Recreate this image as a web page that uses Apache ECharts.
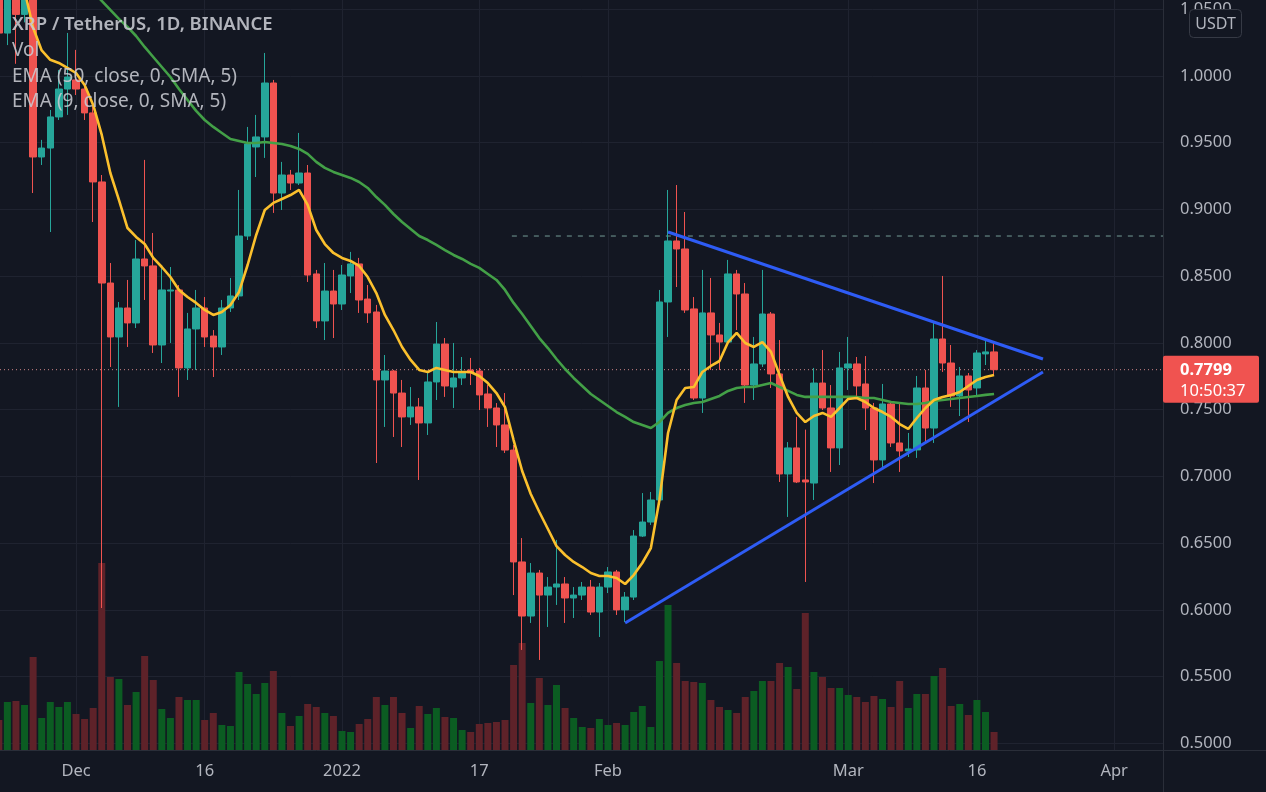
<!DOCTYPE html>
<html><head><meta charset="utf-8">
<script src="https://cdn.jsdelivr.net/npm/echarts/dist/echarts.min.js"></script>
<style>html,body{margin:0;padding:0;background:#131722;}#c{width:1266px;height:792px;}</style>
</head><body><div id="c"></div>
<script>
// day offsets are counted from 2021-12-01 (day 0); first candle is 2021-11-22
const firstDay = -9;
const opens = [1.080,1.032,1.068,1.046,1.062,0.9392,0.9459,0.9692,0.9901,0.9969,0.9901,0.9722,0.9205,0.8448,0.8044,0.8261,0.8149,0.8628,0.8576,0.7984,0.8388,0.8396,0.7812,0.8104,0.8261,0.8051,0.7969,0.8261,0.8351,0.8800,0.9467,0.9542,0.9946,0.9122,0.9257,0.9197,0.9272,0.8516,0.8164,0.8388,0.8291,0.8501,0.8591,0.8328,0.8231,0.7722,0.7789,0.7624,0.7445,0.7520,0.7400,0.7707,0.7991,0.7669,0.7737,0.7797,0.7789,0.7617,0.7512,0.7385,0.7197,0.6359,0.5954,0.6276,0.6111,0.6171,0.6194,0.6089,0.6111,0.6171,0.5984,0.6171,0.6284,0.6000,0.6096,0.6553,0.6658,0.6823,0.8306,0.8763,0.8703,0.8254,0.7587,0.8224,0.8059,0.8006,0.8516,0.8366,0.7684,0.7842,0.8216,0.7767,0.7018,0.7213,0.6973,0.6950,0.7699,0.7512,0.7213,0.7812,0.7842,0.7692,0.7512,0.7123,0.7542,0.7250,0.7190,0.7198,0.7662,0.7362,0.8029,0.7849,0.7602,0.7752,0.7662,0.7917,0.7932];
const closes = [1.032,1.068,1.046,1.062,0.9392,0.9459,0.9692,0.9901,0.9991,0.9901,0.9722,0.9205,0.8448,0.8044,0.8261,0.8149,0.8628,0.8576,0.7984,0.8396,0.8396,0.7812,0.8104,0.8261,0.8044,0.7969,0.8261,0.8351,0.8800,0.9489,0.9542,0.9946,0.9122,0.9257,0.9197,0.9272,0.8508,0.8164,0.8388,0.8291,0.8508,0.8591,0.8321,0.8224,0.7722,0.7789,0.7624,0.7445,0.7520,0.7400,0.7707,0.7991,0.7677,0.7737,0.7782,0.7775,0.7610,0.7512,0.7385,0.7197,0.6359,0.5954,0.6276,0.6111,0.6171,0.6194,0.6089,0.6111,0.6171,0.5984,0.6171,0.6284,0.6000,0.6096,0.6553,0.6658,0.6823,0.8306,0.8763,0.8703,0.8246,0.7587,0.8224,0.8059,0.8006,0.8516,0.8366,0.7684,0.7842,0.8216,0.7767,0.7018,0.7213,0.6958,0.6958,0.7699,0.7512,0.7213,0.7812,0.7842,0.7677,0.7512,0.7123,0.7542,0.7250,0.7190,0.7205,0.7662,0.7362,0.8029,0.7849,0.7602,0.7752,0.7647,0.7924,0.7932,0.7799];
const lows = [1.020,1.023,1.009,1.040,0.9122,0.9332,0.8830,0.9669,0.9707,0.9856,0.9669,0.8905,0.6014,0.7819,0.7520,0.7969,0.8111,0.8321,0.7924,0.7849,0.7999,0.7595,0.7722,0.7797,0.7969,0.7744,0.7909,0.8231,0.8321,0.8770,0.9242,0.9385,0.8973,0.8995,0.9145,0.9182,0.8456,0.8111,0.8021,0.8036,0.8246,0.8373,0.8224,0.8149,0.7100,0.7370,0.7295,0.7220,0.7385,0.6973,0.7310,0.7572,0.7595,0.7512,0.7684,0.7684,0.7497,0.7370,0.7220,0.7175,0.6111,0.5700,0.5902,0.5625,0.5872,0.6037,0.5902,0.5939,0.6074,0.5962,0.5797,0.6126,0.5962,0.5909,0.6074,0.6546,0.6636,0.6786,0.8044,0.8418,0.8224,0.7572,0.7475,0.7797,0.7797,0.7984,0.8096,0.7550,0.7572,0.7819,0.7662,0.6958,0.6696,0.6950,0.6209,0.6823,0.7497,0.7033,0.7085,0.7647,0.7595,0.7347,0.6950,0.7070,0.7220,0.7033,0.7145,0.7138,0.7250,0.7250,0.7782,0.7520,0.7452,0.7407,0.7595,0.7834,0.7759];
const highs = [1.090,1.080,1.075,1.078,1.070,0.9520,0.9744,1.0044,1.0321,1.0194,0.9931,0.9782,0.9257,0.8598,0.8306,0.8471,0.8770,0.9370,0.8823,0.8568,0.8568,0.8433,0.8224,0.8396,0.8343,0.8096,0.8321,0.8486,0.9145,0.9617,0.9707,1.0171,0.9969,0.9355,0.9295,0.9572,0.9332,0.8546,0.8598,0.8546,0.8583,0.8681,0.8636,0.8433,0.8284,0.7909,0.7797,0.7722,0.7669,0.7587,0.7774,0.8156,0.8036,0.7999,0.7894,0.7887,0.7812,0.7684,0.7549,0.7624,0.7235,0.6538,0.6351,0.6299,0.6246,0.6524,0.6246,0.6171,0.6209,0.6224,0.6201,0.6321,0.6299,0.6134,0.6598,0.6875,0.6883,0.8396,0.9145,0.9182,0.8980,0.8343,0.8546,0.8486,0.8149,0.8621,0.8546,0.8448,0.8044,0.8546,0.8231,0.8021,0.7257,0.7445,0.7350,0.7812,0.7946,0.7684,0.7932,0.8044,0.7894,0.7901,0.7550,0.7692,0.7557,0.7550,0.7325,0.7752,0.7797,0.8156,0.8501,0.7984,0.7819,0.7774,0.7946,0.8014,0.7999];
// volume, millions of XRP
const volumes = [300,480,490,450,930,320,480,430,480,360,310,420,1870,730,710,450,580,940,700,410,320,530,500,500,300,370,250,240,780,660,560,670,790,370,240,340,460,430,370,340,190,180,260,310,530,450,530,370,220,440,360,420,330,320,200,180,260,270,280,300,850,1070,470,720,450,650,420,320,230,220,310,250,270,250,380,440,230,890,1450,870,690,680,670,500,430,400,370,530,590,690,690,870,830,610,1370,780,730,620,620,550,530,480,540,510,430,690,420,560,560,740,820,440,460,350,500,380,180];
// EMA 9 (yellow) from day -6, EMA 50 (green) from day 2
const ema9Start = -6;
const ema9 = [1.064,1.036,1.019,1.012,1.0096,1.0059,1.0021,0.9931,0.9782,0.9557,0.9272,0.9070,0.8860,0.8793,0.8740,0.8636,0.8568,0.8493,0.8396,0.8343,0.8299,0.8246,0.8209,0.8231,0.8284,0.8381,0.8583,0.8808,0.8995,0.9048,0.9077,0.9107,0.9145,0.9033,0.8845,0.8740,0.8673,0.8636,0.8613,0.8576,0.8493,0.8373,0.8209,0.8096,0.7969,0.7872,0.7797,0.7782,0.7812,0.7797,0.7782,0.7782,0.7782,0.7752,0.7699,0.7624,0.7519,0.7272,0.7040,0.6868,0.6733,0.6606,0.6478,0.6411,0.6359,0.6321,0.6276,0.6254,0.6254,0.6239,0.6194,0.6261,0.6351,0.6463,0.6823,0.7325,0.7572,0.7662,0.7669,0.7782,0.7827,0.7864,0.8006,0.8074,0.7999,0.7969,0.8006,0.7932,0.7759,0.7595,0.7475,0.7407,0.7452,0.7475,0.7445,0.7512,0.7580,0.7587,0.7557,0.7512,0.7482,0.7445,0.7392,0.7355,0.7437,0.7512,0.7572,0.7595,0.7610,0.7632,0.7677,0.7722,0.7744,0.7759];
const ema50Start = 2;
const ema50 = [1.0628,1.0561,1.0493,1.0426,1.0366,1.0298,1.0216,1.0141,1.0066,0.9991,0.9901,0.9819,0.9737,0.9669,0.9617,0.9572,0.9527,0.9512,0.9497,0.9497,0.9504,0.9497,0.9489,0.9474,0.9452,0.9415,0.9355,0.9310,0.9280,0.9257,0.9235,0.9205,0.9160,0.9092,0.9033,0.8965,0.8905,0.8853,0.8800,0.8770,0.8733,0.8695,0.8658,0.8628,0.8591,0.8561,0.8516,0.8471,0.8396,0.8299,0.8216,0.8126,0.8036,0.7961,0.7879,0.7804,0.7737,0.7677,0.7617,0.7572,0.7527,0.7482,0.7445,0.7407,0.7385,0.7362,0.7407,0.7475,0.7512,0.7535,0.7550,0.7557,0.7580,0.7602,0.7640,0.7662,0.7669,0.7669,0.7684,0.7699,0.7669,0.7640,0.7610,0.7595,0.7595,0.7595,0.7595,0.7595,0.7595,0.7595,0.7587,0.7587,0.7572,0.7557,0.7550,0.7542,0.7542,0.7550,0.7565,0.7572,0.7580,0.7587,0.7595,0.7602,0.7610,0.7617];
// drawn trendlines [day, price]
const upperTrend = [[69.0, 0.8830], [112.7, 0.7879]];
const lowerTrend = [[64.0, 0.5902], [112.7, 0.7782]];
const resistanceLevel = 0.88, resistanceFrom = 50.8;
// axis ticks
const xTickDays = [0, 15, 31, 47, 62, 90, 105, 121];
const xTickLabels = ['Dec', '16', '2022', '17', 'Feb', 'Mar', '16', 'Apr'];
const priceTicks = [0.50, 0.55, 0.60, 0.65, 0.70, 0.75, 0.80, 0.85, 0.90, 0.95, 1.00, 1.05];
const legendLines = ['XRP / TetherUS, 1D, BINANCE', 'Vol', 'EMA (50, close, 0, SMA, 5)', 'EMA (9, close, 0, SMA, 5)'];
const countdown = '10:50:37';

const UP = '#26a69a', DOWN = '#ef5350';
const VUP = '#0b5c22', VDOWN = '#5e2229';
const xMin = -8.86, xMax = 126.69;
const yMin = 0.49506, yMax = 1.05677;
const FONT = 'Noto Sans, DejaVu Sans, sans-serif';

const candles = opens.map((o, i) => [firstDay + i, o, closes[i], lows[i], highs[i]]);
const vols = volumes.map((v, i) => ({
  value: [firstDay + i, v],
  itemStyle: { color: closes[i] >= opens[i] ? VUP : VDOWN }
}));
const ema9Data = ema9.map((v, i) => [ema9Start + i, v]);
const ema50Data = ema50.map((v, i) => [ema50Start + i, v]);
const lastClose = closes[closes.length - 1];

const chart = echarts.init(document.getElementById('c'), null, { renderer: 'canvas' });
const gridBox = { left: 0, right: 103, top: 0, bottom: 42, outerBoundsMode: 'none', containLabel: false };
chart.setOption({
  backgroundColor: '#131722',
  animation: false,
  grid: [Object.assign({}, gridBox), Object.assign({}, gridBox)],
  xAxis: [{
    type: 'value', gridIndex: 0, min: xMin, max: xMax,
    axisLine: { show: false },
    axisTick: { show: false, customValues: xTickDays },
    axisLabel: {
      customValues: xTickDays, color: '#b2b5be', fontSize: 16.5, fontFamily: FONT, margin: 13,
      formatter: v => { const k = xTickDays.indexOf(Math.round(v)); return k >= 0 ? xTickLabels[k] : ''; }
    },
    splitLine: { show: true, lineStyle: { color: '#1f2330', width: 1 } }
  }, {
    type: 'value', gridIndex: 1, min: xMin, max: xMax, show: false
  }],
  yAxis: [{
    type: 'value', gridIndex: 0, position: 'right', min: yMin, max: yMax, scale: true,
    axisLine: { show: false },
    axisTick: { show: false, customValues: priceTicks },
    axisLabel: {
      customValues: priceTicks, color: '#b2b5be', fontSize: 16.5, fontFamily: FONT, margin: 17,
      formatter: v => v.toFixed(4)
    },
    splitLine: { show: true, lineStyle: { color: '#1f2330', width: 1 } }
  }, {
    type: 'value', gridIndex: 1, min: 0, max: 7500, show: false
  }],
  series: [
    { type: 'bar', xAxisIndex: 1, yAxisIndex: 1, data: vols, barWidth: 7, z: 1 },
    {
      type: 'candlestick', xAxisIndex: 0, yAxisIndex: 0, data: candles, barWidth: 7, z: 3,
      itemStyle: { color: UP, color0: DOWN, borderColor: UP, borderColor0: DOWN, borderWidth: 1 }
    },
    { type: 'line', data: ema50Data, showSymbol: false, z: 4, lineStyle: { color: '#43a047', width: 2.6 } },
    { type: 'line', data: ema9Data, showSymbol: false, z: 5, lineStyle: { color: '#fbc02d', width: 2.6 } },
    { type: 'line', data: upperTrend, showSymbol: false, z: 6, lineStyle: { color: '#2e5cf5', width: 3 } },
    { type: 'line', data: lowerTrend, showSymbol: false, z: 6, lineStyle: { color: '#2e5cf5', width: 3 } },
    { type: 'line', data: [[resistanceFrom, resistanceLevel], [xMax, resistanceLevel]], showSymbol: false, z: 2,
      lineStyle: { color: 'rgba(140,190,180,0.8)', width: 1, type: [5, 6] } },
    { type: 'line', data: [[xMin, lastClose], [xMax, lastClose]], showSymbol: false, z: 2,
      lineStyle: { color: 'rgba(235,150,150,0.85)', width: 1, type: [1, 3] } }
  ]
});

const py = chart.convertToPixel({ gridIndex: 0 }, [0, lastClose])[1];
const legendY = [25, 51, 77, 102];
const graphics = [
  { type: 'line', z: 50, shape: { x1: 1163.5, y1: 0, x2: 1163.5, y2: 792 }, style: { stroke: '#2a2e39', lineWidth: 1 } },
  { type: 'line', z: 50, shape: { x1: 0, y1: 750.5, x2: 1266, y2: 750.5 }, style: { stroke: '#2a2e39', lineWidth: 1 } },
  { type: 'rect', z: 60, shape: { x: 1189.5, y: 9.5, width: 52, height: 28, r: 4 }, style: { fill: '#131722', stroke: '#363a45', lineWidth: 1 } },
  { type: 'text', z: 61, x: 1215.5, y: 24, style: { text: 'USDT', fill: '#b2b5be', font: '16px ' + FONT, align: 'center', verticalAlign: 'middle' } },
  { type: 'rect', z: 60, shape: { x: 1163, y: py - 14, width: 96, height: 47, r: 2 }, style: { fill: '#f05350' } },
  { type: 'text', z: 61, x: 1180, y: py + 1, style: { text: lastClose.toFixed(4), fill: '#ffffff', font: 'bold 16.5px ' + FONT, verticalAlign: 'middle' } },
  { type: 'text', z: 61, x: 1180, y: py + 22, style: { text: countdown, fill: '#ffffff', font: '16.5px ' + FONT, verticalAlign: 'middle' } }
];
legendLines.forEach((t, i) => {
  graphics.push({ type: 'text', z: 70, x: 12, y: legendY[i], style: {
    text: t, fill: 'rgba(200,203,210,0.88)', font: (i === 0 ? '600 18.5px ' : '19px ') + FONT, verticalAlign: 'middle' } });
});
chart.setOption({ graphic: graphics });
</script>
</body></html>
